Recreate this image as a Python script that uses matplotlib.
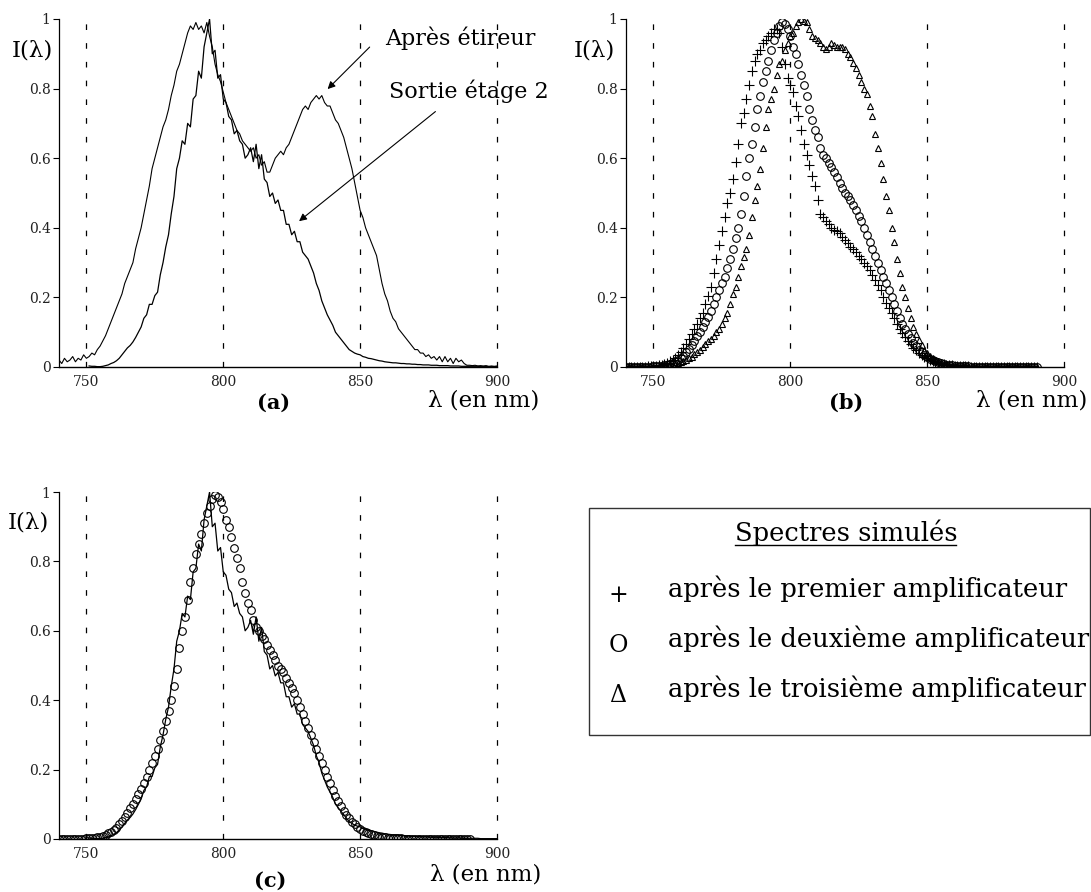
import numpy as np
import matplotlib
matplotlib.use("Agg")
import matplotlib.pyplot as plt
from matplotlib.patches import Rectangle
from matplotlib.lines import Line2D

plt.rcParams['font.family'] = ['DejaVu Serif']

nan = np.nan

# wavelength grid (nm), 1 nm step, 740 -> 900
lam = np.arange(740, 901)

# (a) measured spectra
apres_etireur = [
    0.020, 0.010, 0.025, 0.015, 0.020, 0.030, 0.015, 0.025, 0.020, 0.035,  # 740
    0.025, 0.030, 0.040, 0.035, 0.050, 0.060, 0.075, 0.090, 0.110, 0.130,  # 750
    0.150, 0.170, 0.190, 0.210, 0.240, 0.260, 0.280, 0.300, 0.340, 0.370,  # 760
    0.400, 0.440, 0.480, 0.520, 0.570, 0.600, 0.630, 0.660, 0.690, 0.710,  # 770
    0.740, 0.780, 0.810, 0.850, 0.870, 0.900, 0.930, 0.960, 0.980, 0.970,  # 780
    0.990, 0.970, 0.980, 0.960, 0.990, 0.950, 0.920, 0.870, 0.840, 0.820,  # 790
    0.790, 0.760, 0.740, 0.720, 0.700, 0.680, 0.670, 0.650, 0.640, 0.630,  # 800
    0.620, 0.630, 0.600, 0.610, 0.580, 0.590, 0.560, 0.560, 0.580, 0.600,  # 810
    0.610, 0.620, 0.610, 0.630, 0.640, 0.660, 0.680, 0.700, 0.720, 0.740,  # 820
    0.750, 0.740, 0.760, 0.770, 0.780, 0.770, 0.780, 0.760, 0.750, 0.750,  # 830
    0.730, 0.710, 0.700, 0.680, 0.660, 0.630, 0.600, 0.570, 0.530, 0.490,  # 840
    0.450, 0.430, 0.400, 0.380, 0.360, 0.340, 0.320, 0.280, 0.240, 0.210,  # 850
    0.190, 0.160, 0.140, 0.130, 0.110, 0.100, 0.090, 0.080, 0.070, 0.060,  # 860
    0.050, 0.050, 0.040, 0.040, 0.030, 0.035, 0.025, 0.030, 0.020, 0.030,  # 870
    0.015, 0.030, 0.015, 0.025, 0.010, 0.025, 0.015, 0.020, 0.010, 0.005,  # 880
    0.005, 0.004, 0.005, 0.003, 0.004, 0.003, 0.004, 0.002, 0.003, 0.002,  # 890
    0.003,                                                                 # 900
]
sortie_etage2 = [
    nan, nan, nan, nan, nan, nan, nan, nan, nan, nan,                      # 740
    nan, 0.003, 0.002, 0.002, 0.001, 0.001, 0.002, 0.004, 0.006, 0.010,    # 750
    0.013, 0.018, 0.025, 0.035, 0.045, 0.055, 0.062, 0.072, 0.085, 0.100,  # 760
    0.115, 0.140, 0.150, 0.180, 0.180, 0.205, 0.215, 0.265, 0.300, 0.345,  # 770
    0.380, 0.440, 0.490, 0.570, 0.600, 0.650, 0.640, 0.700, 0.690, 0.770,  # 780
    0.780, 0.850, 0.830, 0.920, 0.960, 1.000, 0.900, 0.910, 0.830, 0.840,  # 790
    0.770, 0.760, 0.720, 0.710, 0.670, 0.680, 0.650, 0.640, 0.600, 0.610,  # 800
    0.630, 0.590, 0.640, 0.570, 0.610, 0.540, 0.530, 0.490, 0.500, 0.470,  # 810
    0.480, 0.450, 0.450, 0.410, 0.410, 0.380, 0.390, 0.360, 0.360, 0.330,  # 820
    0.320, 0.310, 0.290, 0.270, 0.240, 0.220, 0.190, 0.170, 0.150, 0.135,  # 830
    0.120, 0.100, 0.090, 0.080, 0.070, 0.060, 0.050, 0.045, 0.040, 0.037,  # 840
    0.035, 0.030, 0.028, 0.025, 0.024, 0.022, 0.020, 0.018, 0.017, 0.015,  # 850
    0.014, 0.013, 0.012, 0.012, 0.011, 0.010, 0.010, 0.009, 0.009, 0.008,  # 860
    0.008, 0.007, 0.007, 0.006, 0.006, 0.006, 0.005, 0.005, 0.005, 0.004,  # 870
    0.004, 0.004, 0.004, 0.003, 0.003, 0.003, 0.003, 0.002, 0.002, 0.002,  # 880
    0.002, 0.002, 0.002, 0.002, 0.001, 0.001, 0.001, 0.001, 0.001, 0.001,  # 890
    0.001,                                                                 # 900
]

# (b) simulated spectra after each amplifier
sim_amp1 = [
    0.000, 0.000, 0.000, 0.000, 0.000, 0.000, 0.001, 0.001, 0.002, 0.002,  # 740
    0.003, 0.004, 0.005, 0.007, 0.009, 0.012, 0.016, 0.021, 0.027, 0.035,  # 750
    0.044, 0.055, 0.067, 0.080, 0.095, 0.110, 0.125, 0.140, 0.155, 0.180,  # 760
    0.205, 0.230, 0.270, 0.310, 0.350, 0.390, 0.430, 0.470, 0.500, 0.540,  # 770
    0.590, 0.640, 0.700, 0.730, 0.770, 0.810, 0.850, 0.880, 0.900, 0.910,  # 780
    0.930, 0.940, 0.950, 0.960, 0.970, 0.970, 0.960, 0.920, 0.870, 0.830,  # 790
    0.810, 0.790, 0.750, 0.720, 0.680, 0.640, 0.610, 0.580, 0.550, 0.520,  # 800
    0.480, 0.440, 0.430, 0.420, 0.410, 0.400, 0.395, 0.390, 0.385, 0.375,  # 810
    0.365, 0.355, 0.345, 0.340, 0.330, 0.320, 0.310, 0.300, 0.290, 0.280,  # 820
    0.265, 0.250, 0.235, 0.220, 0.200, 0.185, 0.170, 0.155, 0.140, 0.125,  # 830
    0.110, 0.097, 0.085, 0.075, 0.065, 0.056, 0.048, 0.041, 0.035, 0.030,  # 840
    0.025, 0.021, 0.018, 0.015, 0.012, 0.010, 0.008, 0.007, 0.006, 0.005,  # 850
    0.004, 0.003, 0.003, 0.002, 0.002, 0.002, 0.001, 0.001, 0.001, 0.001,  # 860
    0.000, 0.000, 0.000, 0.000, 0.000, 0.000, 0.000, 0.000, 0.000, 0.000,  # 870
    0.000, 0.000, 0.000, 0.000, 0.000, 0.000, 0.000, 0.000, 0.000, 0.000,  # 880
    0.000, nan, nan, nan, nan, nan, nan, nan, nan, nan,                    # 890
    nan,                                                                   # 900
]
sim_amp2 = [
    0.000, 0.000, 0.000, 0.000, 0.000, 0.000, 0.000, 0.001, 0.001, 0.001,  # 740
    0.002, 0.002, 0.003, 0.004, 0.005, 0.007, 0.009, 0.012, 0.016, 0.020,  # 750
    0.026, 0.033, 0.042, 0.052, 0.063, 0.075, 0.088, 0.100, 0.115, 0.130,  # 760
    0.145, 0.160, 0.180, 0.200, 0.220, 0.240, 0.260, 0.285, 0.310, 0.340,  # 770
    0.370, 0.400, 0.440, 0.490, 0.550, 0.600, 0.640, 0.690, 0.740, 0.780,  # 780
    0.820, 0.850, 0.880, 0.910, 0.940, 0.960, 0.980, 0.990, 0.985, 0.970,  # 790
    0.950, 0.920, 0.900, 0.870, 0.840, 0.810, 0.780, 0.740, 0.710, 0.680,  # 800
    0.660, 0.630, 0.610, 0.600, 0.585, 0.575, 0.560, 0.545, 0.530, 0.515,  # 810
    0.500, 0.490, 0.480, 0.465, 0.450, 0.435, 0.420, 0.400, 0.380, 0.360,  # 820
    0.340, 0.320, 0.300, 0.280, 0.260, 0.240, 0.220, 0.200, 0.180, 0.160,  # 830
    0.140, 0.125, 0.110, 0.095, 0.082, 0.070, 0.060, 0.050, 0.042, 0.035,  # 840
    0.029, 0.024, 0.020, 0.016, 0.013, 0.011, 0.009, 0.007, 0.006, 0.005,  # 850
    0.004, 0.003, 0.003, 0.002, 0.002, 0.002, 0.001, 0.001, 0.001, 0.001,  # 860
    0.000, 0.000, 0.000, 0.000, 0.000, 0.000, 0.000, 0.000, 0.000, 0.000,  # 870
    0.000, 0.000, 0.000, 0.000, 0.000, 0.000, 0.000, 0.000, 0.000, 0.000,  # 880
    0.000, nan, nan, nan, nan, nan, nan, nan, nan, nan,                    # 890
    nan,                                                                   # 900
]
sim_amp3 = [
    0.000, 0.000, 0.000, 0.000, 0.000, 0.000, 0.000, 0.000, 0.000, 0.001,  # 740
    0.001, 0.001, 0.002, 0.002, 0.003, 0.004, 0.005, 0.007, 0.009, 0.011,  # 750
    0.014, 0.017, 0.021, 0.026, 0.030, 0.036, 0.043, 0.050, 0.058, 0.067,  # 760
    0.075, 0.080, 0.090, 0.100, 0.110, 0.125, 0.140, 0.155, 0.180, 0.210,  # 770
    0.230, 0.260, 0.290, 0.315, 0.340, 0.380, 0.430, 0.480, 0.520, 0.570,  # 780
    0.630, 0.690, 0.740, 0.770, 0.800, 0.840, 0.870, 0.880, 0.910, 0.930,  # 790
    0.950, 0.960, 0.980, 0.990, 1.000, 0.995, 0.990, 0.970, 0.950, 0.945,  # 800
    0.940, 0.930, 0.920, 0.915, 0.920, 0.930, 0.925, 0.920, 0.920, 0.920,  # 810
    0.915, 0.900, 0.890, 0.875, 0.860, 0.840, 0.820, 0.800, 0.785, 0.750,  # 820
    0.720, 0.670, 0.630, 0.585, 0.540, 0.490, 0.450, 0.400, 0.360, 0.310,  # 830
    0.270, 0.230, 0.200, 0.170, 0.140, 0.115, 0.095, 0.078, 0.063, 0.050,  # 840
    0.040, 0.032, 0.025, 0.020, 0.016, 0.013, 0.010, 0.008, 0.006, 0.005,  # 850
    0.004, 0.003, 0.003, 0.002, 0.002, 0.002, 0.001, 0.001, 0.001, 0.001,  # 860
    0.000, 0.000, 0.000, 0.000, 0.000, 0.000, 0.000, 0.000, 0.000, 0.000,  # 870
    0.000, 0.000, 0.000, 0.000, 0.000, 0.000, 0.000, 0.000, 0.000, 0.000,  # 880
    0.000, nan, nan, nan, nan, nan, nan, nan, nan, nan,                    # 890
    nan,                                                                   # 900
]

xticks = [750, 800, 850, 900]
yticks = [0, 0.2, 0.4, 0.6, 0.8, 1]
yticklabels = ['0', '0.2', '0.4', '0.6', '0.8', '1']

legend_title = 'Spectres simulés'
legend_symbols = ['+', 'O', 'Δ']
legend_labels = ['après le premier amplificateur',
                 'après le deuxième amplificateur',
                 'après le troisième amplificateur']

W, H = 1091, 892
fig = plt.figure(figsize=(W / 100, H / 100), dpi=100)


def fx(px):
    return px / W


def fy(py):
    return 1 - py / H


def style(ax):
    ax.set_xlim(740, 900)
    ax.set_ylim(0, 1)
    ax.spines['top'].set_visible(False)
    ax.spines['right'].set_visible(False)
    ax.spines['left'].set_linewidth(0.9)
    ax.spines['bottom'].set_linewidth(1.0)
    ax.set_xticks(xticks)
    ax.set_yticks(yticks, yticklabels)
    ax.tick_params(axis='y', direction='out', length=4, width=0.8,
                   labelsize=10, pad=2, labelcolor='#222222')
    ax.tick_params(axis='x', length=0, labelsize=10, pad=6,
                   labelcolor='#222222')
    for x in xticks:
        ax.axvline(x, color='black', lw=0.9, ls=(0, (4.5, 10.5)),
                   zorder=0, clip_on=False)


ax_a = fig.add_axes([fx(59), fy(367), fx(438), 348 / H])
ax_b = fig.add_axes([fx(626), fy(367), fx(438), 348 / H])
ax_c = fig.add_axes([fx(59), fy(839), fx(438), 347 / H])
for ax in (ax_a, ax_b, ax_c):
    style(ax)

# (a)
ax_a.plot(lam, apres_etireur, color='black', lw=0.8)
ax_a.plot(lam, sortie_etage2, color='black', lw=0.9)
ax_a.text(859, 0.945, 'Après étireur', fontsize=16, va='center', ha='left')
ax_a.text(860.5, 0.793, 'Sortie étage 2', fontsize=16, va='center', ha='left')
arrow = dict(arrowstyle='-|>', lw=0.8, color='black', mutation_scale=11)
ax_a.annotate('', xy=(837.4, 0.793), xytext=(854.2, 0.925), arrowprops=arrow)
ax_a.annotate('', xy=(826.9, 0.414), xytext=(878.3, 0.739), arrowprops=arrow)

# (b)
mk = dict(ls='none', color='black', mfc='none', mew=0.8)
ax_b.plot(lam, sim_amp3, marker='^', ms=4.5, **mk)
ax_b.plot(lam, sim_amp2, marker='o', ms=5.5, **mk)
ax_b.plot(lam, sim_amp1, marker='+', ms=6.5, **mk)

# (c)
ax_c.plot(lam, sortie_etage2, color='black', lw=0.9)
ax_c.plot(lam, sim_amp2, marker='o', ms=5.5, **mk)

# axis labels and panel letters
for px, py in [(32, 50), (594, 50), (28, 522)]:
    fig.text(fx(px), fy(py), 'I(λ)', fontsize=16.5, ha='center', va='center')
for px, py in [(484, 401), (1032, 401), (486, 875)]:
    fig.text(fx(px), fy(py), 'λ (en nm)', fontsize=16.5, ha='center',
             va='center')
for px, py, s in [(274, 403, '(a)'), (846, 403, '(b)'), (270, 881, '(c)')]:
    fig.text(fx(px), fy(py), s, fontsize=15, fontweight='bold',
             ha='center', va='center')

# legend box
fig.patches.append(Rectangle((fx(589), fy(735)), fx(1090) - fx(589),
                             fy(508) - fy(735), transform=fig.transFigure,
                             fill=False, ec='#333333', lw=1.0))
fig.text(fx(846), fy(541), legend_title, fontsize=18.5, ha='center',
         va='baseline')
fig.lines.append(Line2D([fx(735), fx(956)], [fy(545), fy(545)],
                        transform=fig.transFigure, color='black', lw=1.0))
for i, (sym, lab) in enumerate(zip(legend_symbols, legend_labels)):
    base = 597 + 50 * i
    fig.text(fx(618), fy(base + 5), sym, fontsize=17, ha='center',
             va='baseline')
    fig.text(fx(668), fy(base), lab, fontsize=18.5, ha='left', va='baseline')

fig.savefig('out.png', dpi=100)
